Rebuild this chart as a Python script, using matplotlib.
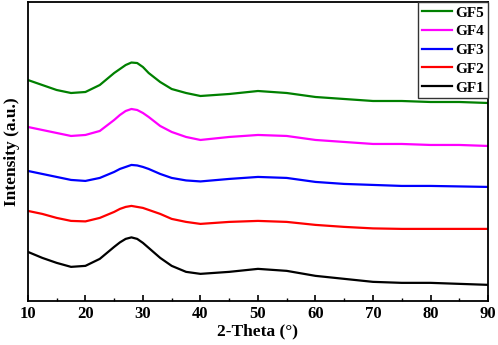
import numpy as np
import matplotlib
matplotlib.use("Agg")
import matplotlib.pyplot as plt
from matplotlib.ticker import MultipleLocator

plt.rcParams['font.family'] = ['Liberation Serif', 'DejaVu Serif']
plt.rcParams['font.weight'] = 'bold'

theta = [10, 12.5, 15, 17.5, 20, 22.5, 25, 26, 27, 28, 29, 30, 31, 33, 35, 37.5, 40,
         45, 50, 55, 60, 65, 70, 75, 80, 85, 90]

gf5 = [220, 215, 210, 207, 208, 215, 227, 231, 235, 237.5, 237, 233, 227, 218, 211, 207, 204,
       206, 209, 207, 203, 201, 199, 199, 198, 198, 197]
gf4 = [173, 170, 167, 164, 165, 169, 180, 185, 189, 191, 190, 187, 183, 174, 168, 163, 160,
       163, 165, 164, 160, 158, 156, 156, 155, 155, 154]
gf3 = [129, 126, 123, 120, 119, 122, 128, 131, 133, 135, 134.5, 133, 131, 126, 122, 119.5, 118.5,
       121, 123, 122, 118, 116, 115, 114, 114, 113.5, 113]
gf2 = [89, 86, 82, 79, 78.5, 82, 88, 91, 93, 94, 93, 92, 90, 86, 81, 78, 76,
       78, 79, 78, 75, 73, 71.5, 71, 71, 71, 71]
gf1 = [48, 42, 37, 33, 34, 41, 53, 57.5, 61, 62.5, 61, 57, 52, 42, 34, 28, 26,
       28, 31, 29, 24, 21, 18, 17, 17, 16, 15]

series = [("GF5", gf5, "green"), ("GF4", gf4, "magenta"), ("GF3", gf3, "blue"),
          ("GF2", gf2, "red"), ("GF1", gf1, "black")]

fig, ax = plt.subplots(figsize=(4.98, 3.45), dpi=100)
fig.subplots_adjust(left=0.056, right=0.98, top=0.994, bottom=0.128)

for name, vals, col in series:
    ax.plot(theta, vals, color=col, lw=1.6, label=name)

ax.set_xlim(10, 90)
ax.set_ylim(-1, 298)
ax.xaxis.set_major_locator(MultipleLocator(10))
ax.xaxis.set_minor_locator(MultipleLocator(5))
ax.tick_params(axis='x', which='major', direction='in', length=4, width=1.2, labelsize=12, pad=4)
ax.tick_params(axis='x', which='minor', direction='in', length=2, width=1.0)
ax.set_yticks([])
for s in ax.spines.values():
    s.set_linewidth(1.3)

ax.set_xlabel("2-Theta (\u00b0)", fontsize=12.5, fontweight='bold', labelpad=1)
ax.set_ylabel("Intensity (a.u.)", fontsize=12.5, fontweight='bold', labelpad=6)

leg = ax.legend(loc='upper right', fontsize=11, fancybox=False, framealpha=1,
                edgecolor='#333333', borderaxespad=0, handlelength=2.0,
                handletextpad=0.2, labelspacing=0.33, borderpad=0.25)
leg.get_frame().set_linewidth(1.0)

fig.savefig("out.png", dpi=100)
